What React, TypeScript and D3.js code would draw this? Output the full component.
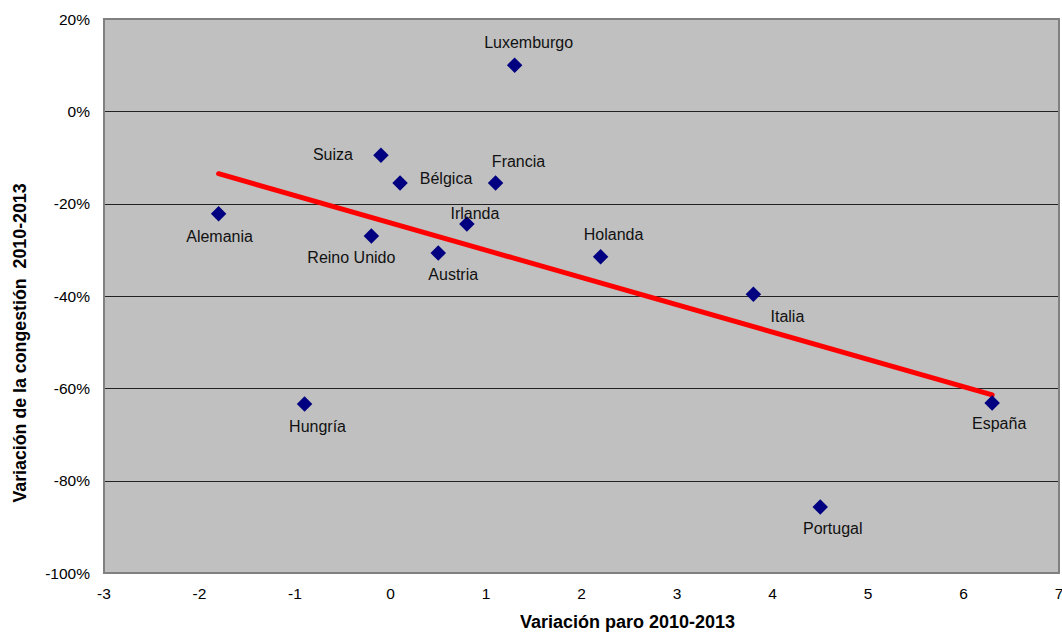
import * as d3 from "d3";
import {useEffect, useRef} from "react";

// Variación paro 2010-2013 (x) vs variación de la congestión 2010-2013 (y, %)
const countries = ["Luxemburgo", "Suiza", "Bélgica", "Francia", "Alemania", "Irlanda", "Reino Unido",
    "Austria", "Holanda", "Italia", "Hungría", "España", "Portugal"];
const paro = [1.3, -0.1, 0.1, 1.1, -1.8, 0.8, -0.2, 0.5, 2.2, 3.8, -0.9, 6.3, 4.5];
const congestion = [10, -9.5, -15.5, -15.5, -22.2, -24.4, -27, -30.7, -31.5, -39.6, -63.4, -63.2, -85.7];

const xTicks = [-3, -2, -1, 0, 1, 2, 3, 4, 5, 6, 7];
const yTicks = [20, 0, -20, -40, -60, -80, -100];

// label offsets from the marker (label centre, px)
const labelOffset: Record<string, [number, number]> = {
    "Luxemburgo": [14, -23], "Suiza": [-48, -1], "Bélgica": [46, -5], "Francia": [23, -22],
    "Alemania": [1, 22], "Irlanda": [8, -11], "Reino Unido": [-20, 21], "Austria": [15, 21.5],
    "Holanda": [13, -22], "Italia": [34, 22.5], "Hungría": [13, 22], "España": [7, 20], "Portugal": [12.5, 21]
};

export default function App() {
    const ref = useRef<SVGSVGElement>(null);
    const W = 1062, H = 632;
    const margin = {top: 19, right: 3, bottom: 59, left: 104};

    useEffect(() => {
        const svg = d3.select(ref.current).html("");
        const x = d3.scaleLinear().domain([-3, 7]).range([margin.left, W - margin.right]);
        const y = d3.scaleLinear().domain([-100, 20]).range([H - margin.bottom, margin.top]);
        const font = "'Liberation Sans', Arial, sans-serif";

        svg.append("rect")
            .attr("x", x(-3)).attr("y", y(20))
            .attr("width", x(7) - x(-3)).attr("height", y(-100) - y(20))
            .attr("fill", "#c0c0c0");

        svg.append("g").selectAll("line")
            .data(yTicks.filter(t => t !== 20 && t !== -100))
            .join("line")
            .attr("x1", x(-3)).attr("x2", x(7))
            .attr("y1", d => Math.round(y(d)) + 0.5).attr("y2", d => Math.round(y(d)) + 0.5)
            .attr("stroke", "#222").attr("stroke-width", 1);

        svg.append("rect")
            .attr("x", x(-3)).attr("y", y(20))
            .attr("width", x(7) - x(-3)).attr("height", y(-100) - y(20))
            .attr("fill", "none").attr("stroke", "#808080").attr("stroke-width", 2);

        svg.append("g").selectAll("text")
            .data(yTicks)
            .join("text")
            .attr("x", x(-3) - 14).attr("y", d => y(d) + 5.5)
            .attr("text-anchor", "end")
            .attr("font-family", font).attr("font-size", 15.5).attr("fill", "#000")
            .text(d => `${d}%`);

        svg.append("g").selectAll("text")
            .data(xTicks)
            .join("text")
            .attr("x", d => x(d)).attr("y", y(-100) + 26)
            .attr("text-anchor", "middle")
            .attr("font-family", font).attr("font-size", 15.5).attr("fill", "#000")
            .text(d => `${d}`);

        // least squares trend line over the data range
        const mx = d3.mean(paro)!, my = d3.mean(congestion)!;
        const sxy = d3.sum(paro, (v, i) => (v - mx) * (congestion[i] - my));
        const sxx = d3.sum(paro, v => (v - mx) * (v - mx));
        const slope = sxy / sxx, intercept = my - slope * mx;
        const [x0, x1] = d3.extent(paro) as [number, number];
        svg.append("path")
            .datum([x0, x1])
            .attr("d", d3.line<number>().x(d => x(d)).y(d => y(intercept + slope * d)))
            .attr("stroke", "#ff0000").attr("stroke-width", 5).attr("fill", "none")
            .attr("stroke-linecap", "round");

        const pts = countries.map((c, i) => ({c, px: paro[i], cy: congestion[i]}));
        svg.append("g").selectAll("path")
            .data(pts)
            .join("path")
            .attr("d", d3.symbol().type(d3.symbolSquare).size(120)())
            .attr("transform", d => `translate(${x(d.px)},${y(d.cy)}) rotate(45)`)
            .attr("fill", "#000080");

        svg.append("g").selectAll("text")
            .data(pts)
            .join("text")
            .attr("x", d => x(d.px) + labelOffset[d.c][0])
            .attr("y", d => y(d.cy) + labelOffset[d.c][1] + 5.7)
            .attr("text-anchor", "middle")
            .attr("font-family", font).attr("font-size", 16).attr("fill", "#111")
            .text(d => d.c);

        svg.append("text")
            .attr("x", (x(-3) + x(7)) / 2 + 46).attr("y", H - 4)
            .attr("text-anchor", "middle")
            .attr("font-family", font).attr("font-size", 18).attr("font-weight", "bold")
            .text("Variación paro 2010-2013");

        svg.append("text")
            .attr("transform", `translate(26,${(y(20) + y(-100)) / 2 + 47}) rotate(-90)`)
            .attr("text-anchor", "middle")
            .attr("font-family", font).attr("font-size", 17.8).attr("font-weight", "bold")
            .attr("xml:space", "preserve")
            .text("Variación de la congestión  2010-2013");
    }, []);

    return (
        <svg ref={ref} width={W} height={H}
             style={{position: "absolute", left: 0, top: 0, background: "#fff"}}/>
    );
}
